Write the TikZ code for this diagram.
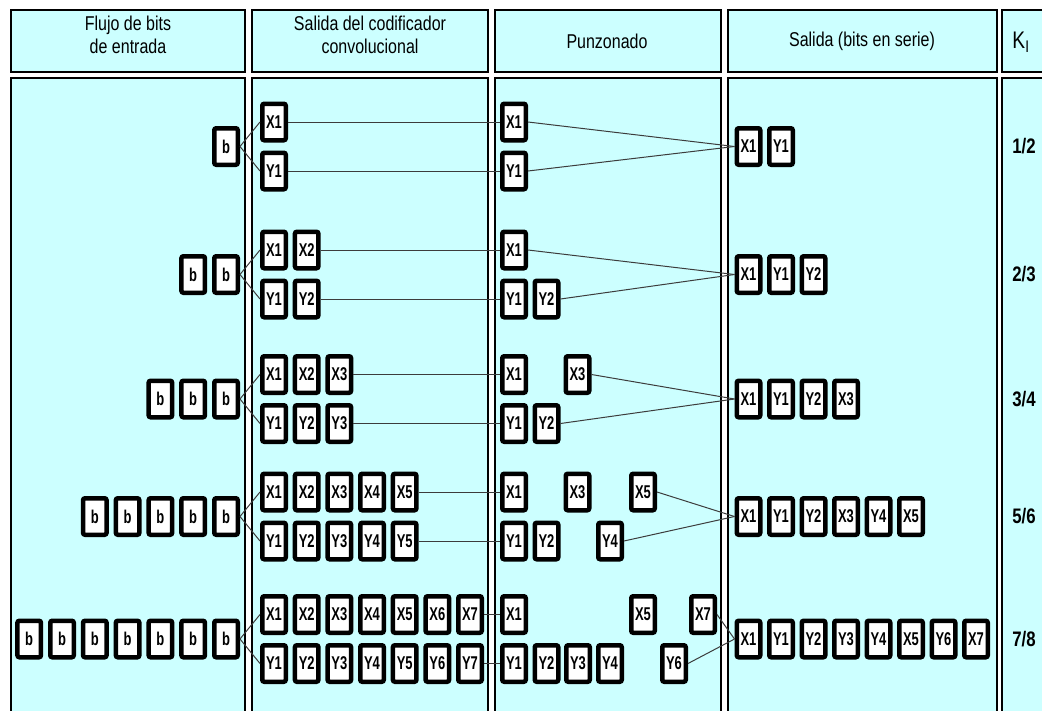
\documentclass[tikz,border=0pt]{standalone}
\usepackage{fontspec}
\setmainfont{Liberation Sans}
\newfontfamily\narrowfont[FakeStretch=0.8]{Liberation Sans}
\newfontfamily\boxfont[FakeStretch=0.7]{Liberation Sans}
\usetikzlibrary{positioning}
\definecolor{panelcyan}{RGB}{204,255,255}
\definecolor{wiregray}{RGB}{60,60,60}

\begin{document}
\begin{tikzpicture}[x=1pt, y=-1pt,
    panel/.style={draw=black, line width=1.8pt, fill=panelcyan},
    bitbox/.style={draw=black, line width=4.5pt, fill=white, rounded corners=2pt,
        minimum width=23.5pt, minimum height=36.5pt, inner sep=0pt,
        font=\boxfont\bfseries\fontsize{18.5}{18.5}\selectfont},
    headtext/.style={align=center, font=\narrowfont\fontsize{20}{23}\selectfont},
    ratetext/.style={font=\narrowfont\bfseries\fontsize{21}{21}\selectfont},
    wire/.style={draw=wiregray, line width=1pt}]
    \useasboundingbox (0,0) rectangle (1042,710);
    \clip (0,0) rectangle (1042,710);
    \fill[white] (0,0) rectangle (1042,710);

    % columns
    \foreach \xa/\xb in {11/245, 252/488, 495/721, 728/997, 1002/1060} {
        \draw[panel] (\xa,10) rectangle (\xb,72);
        \draw[panel] (\xa,78) rectangle (\xb,730);
    }
    \node[headtext] (h1) at (128,35) {Flujo de bits\\de entrada};
    \node[headtext] (h2) at (370,35) {Salida del codificador\\convolucional};
    \node[headtext] (h3) at (607,41) {Punzonado};
    \node[headtext] (h4) at (862,41) {Salida (bits en serie)};
    \node[headtext, font=\narrowfont\fontsize{24}{24}\selectfont] (h5) at (1021,42) {K\textsubscript{I}};

    % input bits and encoder output
    \foreach \r/\y/\n in {1/146.5/1, 2/274.5/2, 3/399/3, 4/516.5/5, 5/639/7} {
        \foreach \j in {1,...,\n}
            \node[bitbox] (b\r-\j) at ({226-32.8*(\j-1)},\y) {b};
        \foreach \i in {1,...,\n} {
            \node[bitbox] (cx\r-\i) at ({274+32.67*(\i-1)},\y-24.5) {X\i};
            \node[bitbox] (cy\r-\i) at ({274+32.67*(\i-1)},\y+24.5) {Y\i};
        }
    }

    % punzonado
    \node[bitbox] (px1-1) at (514,122) {X1};
    \node[bitbox] (py1-1) at (514,171) {Y1};

    \node[bitbox] (px2-1) at (514,250) {X1};
    \node[bitbox] (py2-1) at (514,299) {Y1};
    \node[bitbox] (py2-2) at (546.5,299) {Y2};

    \node[bitbox] (px3-1) at (514,374.5) {X1};
    \node[bitbox] (px3-3) at (577.5,374.5) {X3};
    \node[bitbox] (py3-1) at (514,423.5) {Y1};
    \node[bitbox] (py3-2) at (546.5,423.5) {Y2};

    \node[bitbox] (px4-1) at (514,492) {X1};
    \node[bitbox] (px4-3) at (577.5,492) {X3};
    \node[bitbox] (px4-5) at (643,492) {X5};
    \node[bitbox] (py4-1) at (514,541) {Y1};
    \node[bitbox] (py4-2) at (546.5,541) {Y2};
    \node[bitbox] (py4-4) at (610,541) {Y4};

    \node[bitbox] (px5-1) at (514,614.5) {X1};
    \node[bitbox] (px5-5) at (643,614.5) {X5};
    \node[bitbox] (px5-7) at (703,614.5) {X7};
    \node[bitbox] (py5-1) at (514,663.5) {Y1};
    \node[bitbox] (py5-2) at (546.5,663.5) {Y2};
    \node[bitbox] (py5-3) at (578,663.5) {Y3};
    \node[bitbox] (py5-4) at (610,663.5) {Y4};
    \node[bitbox] (py5-6) at (674,663.5) {Y6};

    % serial output
    \foreach \lab [count=\k] in {X1,Y1}
        \node[bitbox] (o1-\k) at ({748.5+32.5*(\k-1)},146.5) {\lab};
    \foreach \lab [count=\k] in {X1,Y1,Y2}
        \node[bitbox] (o2-\k) at ({748.5+32.5*(\k-1)},274.5) {\lab};
    \foreach \lab [count=\k] in {X1,Y1,Y2,X3}
        \node[bitbox] (o3-\k) at ({748.5+32.5*(\k-1)},399) {\lab};
    \foreach \lab [count=\k] in {X1,Y1,Y2,X3,Y4,X5}
        \node[bitbox] (o4-\k) at ({748.5+32.5*(\k-1)},516.5) {\lab};
    \foreach \lab [count=\k] in {X1,Y1,Y2,Y3,Y4,X5,Y6,X7}
        \node[bitbox] (o5-\k) at ({748.5+32.5*(\k-1)},639) {\lab};

    \node[ratetext] (k1) at (1024,146.5) {1/2};
    \node[ratetext] (k2) at (1024,274.5) {2/3};
    \node[ratetext] (k3) at (1024,399) {3/4};
    \node[ratetext] (k4) at (1024,516.5) {5/6};
    \node[ratetext] (k5) at (1024,639) {7/8};

    % wires
    \foreach \r/\n/\lx/\ly in {1/1/1/1, 2/2/1/2, 3/3/3/2, 4/5/5/4, 5/7/7/6} {
        \draw[wire] (b\r-1.east) -- (cx\r-1.west);
        \draw[wire] (b\r-1.east) -- (cy\r-1.west);
        \draw[wire] (cx\r-\n.east) -- (px\r-1.west);
        \draw[wire] (cy\r-\n.east) -- (py\r-1.west);
        \draw[wire] (px\r-\lx.east) -- (o\r-1.west);
        \draw[wire] (py\r-\ly.east) -- (o\r-1.west);
    }
\end{tikzpicture}
\end{document}
